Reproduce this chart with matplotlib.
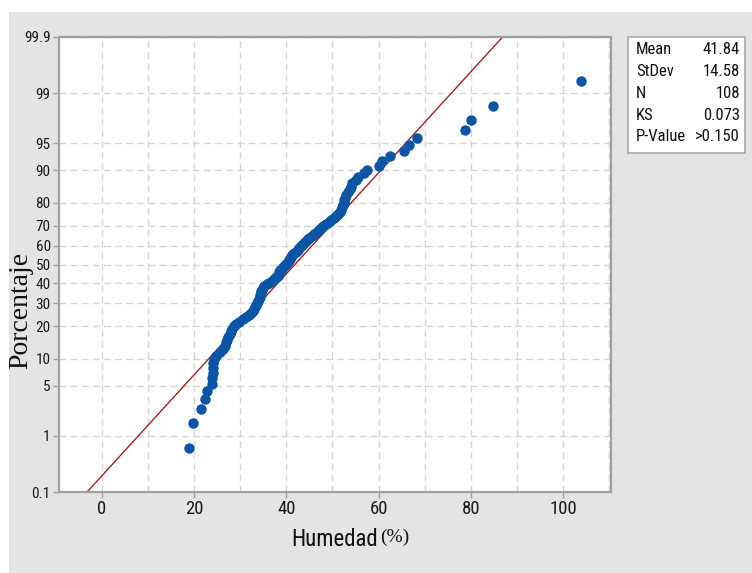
import numpy as np
import matplotlib
matplotlib.use('Agg')
import matplotlib.pyplot as plt
from matplotlib import font_manager
from matplotlib.patches import Rectangle
from statistics import NormalDist

# humidity values, sorted (108 samples)
humedad = [18.9, 19.7, 21.6, 22.3, 22.8, 23.8, 23.9, 24.0, 24.0, 24.1,
           24.3, 24.8, 25.6, 26.3, 26.7, 27.0, 27.2, 27.4, 27.7, 28.0,
           28.2, 28.6, 29.1, 29.8, 30.6, 31.3, 32.0, 32.4, 32.7, 32.9,
           33.2, 33.4, 33.6, 33.8, 34.0, 34.2, 34.3, 34.5, 34.6, 34.8,
           35.0, 35.2, 35.7, 36.3, 36.9, 37.3, 37.8, 38.1, 38.3, 38.5,
           38.7, 39.0, 39.3, 39.7, 40.0, 40.3, 40.6, 40.8, 41.0, 41.3,
           41.6, 42.1, 42.5, 42.8, 43.1, 43.5, 43.8, 44.2, 44.6, 45.0,
           45.6, 46.1, 46.6, 47.0, 47.5, 48.0, 48.6, 49.2, 49.7, 50.3,
           50.7, 51.2, 51.6, 51.9, 52.0, 52.2, 52.4, 52.6, 52.8, 53.0,
           53.3, 53.7, 54.0, 54.2, 55.2, 55.6, 56.8, 57.4, 60.0, 60.8,
           62.5, 65.6, 66.6, 68.4, 78.7, 80.0, 84.9, 103.8]

mean = 41.84
stdev = 14.58
pct_ticks = [0.1, 1, 5, 10, 20, 30, 40, 50, 60, 70, 80, 90, 95, 99, 99.9]
pct_labels = ['0.1', '1', '5', '10', '20', '30', '40', '50', '60', '70',
              '80', '90', '95', '99', '99.9']
x_ticks = [0, 20, 40, 60, 80, 100]
stat_names = ['Mean', 'StDev', 'N', 'KS', 'P-Value']
stat_values = ['41.84', '14.58', '108', '0.073', '>0.150']

nd = NormalDist()
installed = {f.name for f in font_manager.fontManager.ttflist}
narrow = [f for f in ['Liberation Sans Narrow', 'DejaVu Sans Condensed',
                      'Roboto Condensed', 'Open Sans Condensed']
          if f in installed] + ['DejaVu Sans']
narrow_font = narrow[0]
serif = ['Liberation Serif', 'DejaVu Serif']
is_narrow = narrow_font != 'DejaVu Sans'
box_fs = 12 if is_narrow else 9.5

n = len(humedad)
# median rank plotting positions on the normal probability scale
z_pts = [nd.inv_cdf((i + 1 - 0.3) / (n + 0.4)) for i in range(n)]
z_lo, z_hi = nd.inv_cdf(0.001), nd.inv_cdf(0.999)

fig = plt.figure(figsize=(7.52, 5.73), dpi=100)
fig.patches.append(Rectangle((9 / 752, 0), 1 - 9 / 752, 1 - 12 / 573,
                             transform=fig.transFigure, facecolor='#e4e4e4',
                             edgecolor='none', zorder=-5))

ax = fig.add_axes([59 / 752, 1 - 492 / 573, 552 / 752, 455 / 573])
ax.set_facecolor('white')

ax.set_xlim(-9.3, 110.4)
ax.set_ylim(z_lo, z_hi)
ax.set_xticks(x_ticks)
ax.set_xticks(np.arange(10, 111, 20), minor=True)
ax.set_yticks([nd.inv_cdf(p / 100) for p in pct_ticks])
ax.set_yticklabels(pct_labels, family=narrow_font,
                   fontsize=11 if is_narrow else 9.5, color='#1a1a1a')
ax.set_xticklabels([str(v) for v in x_ticks], family=narrow_font,
                   fontsize=13.5 if is_narrow else 11, color='#1a1a1a')
ax.tick_params(which='major', length=4, width=1, color='#a0a0a0', pad=2)
ax.tick_params(which='minor', length=0)
ax.grid(True, which='both', ls=(0, (5, 3)), color='#d6d6d6', lw=1)
ax.set_axisbelow(True)
for s in ax.spines.values():
    s.set_color('#a0a0a0')
    s.set_linewidth(1.6)

# fitted normal line
z_line = np.array([z_lo, z_hi])
ax.plot(mean + stdev * z_line, z_line, color='#a52020', lw=1, zorder=2)

ax.plot(humedad, z_pts, 'o', color='#0a55a5', ms=6.5, mec='#0a55a5',
        zorder=3, clip_on=False)

# stats box
fig.patches.append(Rectangle((628 / 752, 1 - 153 / 573), 117 / 752, 116 / 573,
                             transform=fig.transFigure, facecolor='white',
                             edgecolor='#a8a8a8', lw=1.2, zorder=1))
rows_y = [50, 72, 93, 115, 137]
for name, val, yy in zip(stat_names, stat_values, rows_y):
    fig.text(636 / 752, 1 - yy / 573, name, family=narrow_font,
             fontsize=box_fs, va='center', ha='left', color='#111111')
    fig.text(740 / 752, 1 - yy / 573, val, family=narrow_font,
             fontsize=box_fs, va='center', ha='right', color='#111111')

fig.text(378 / 752, 1 - 540 / 573, 'Humedad', family=narrow_font,
         fontsize=16.5 if is_narrow else 13.5, ha='right', va='center',
         color='#111111')
fig.text(380 / 752, 1 - 537 / 573, '(%)', family=serif, fontsize=14,
         ha='left', va='center', color='#111111')
fig.text(21 / 752, 1 - 310 / 573, 'Porcentaje', family=serif, fontsize=20,
         rotation=90, ha='center', va='center', color='#111111')

plt.savefig('out.png', dpi=100)
